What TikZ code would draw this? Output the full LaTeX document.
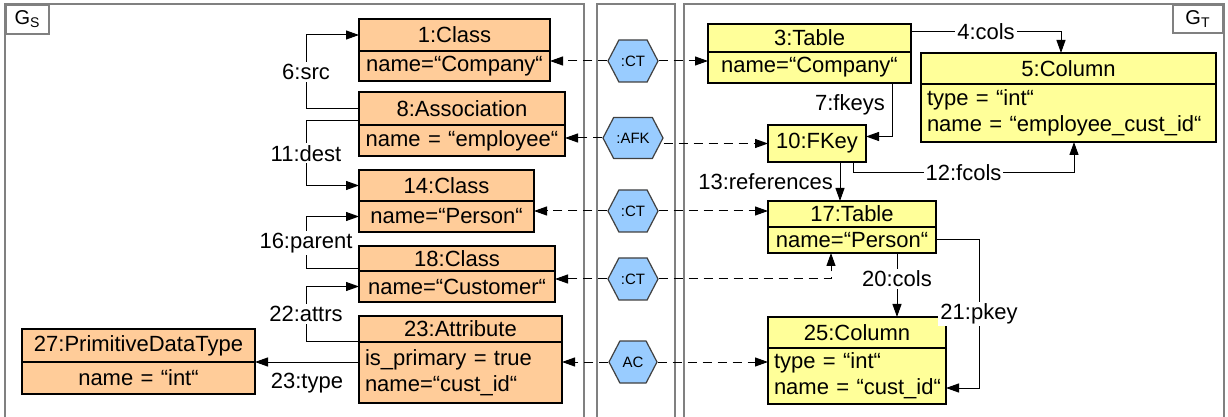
\documentclass[tikz,border=0pt]{standalone}
\usepackage{fontspec}
\setmainfont{Liberation Sans}
\usetikzlibrary{arrows.meta,shapes.symbols}
\definecolor{orange1}{HTML}{FFCC99}
\definecolor{yellow1}{HTML}{FFFF99}
\definecolor{blue1}{HTML}{99CCFF}
\definecolor{grau1}{HTML}{808080}

\begin{document}
\begin{tikzpicture}[
		x=1pt, y=1pt,
		>={Triangle[length=6.5pt,width=4.5pt]},		% Standardpfeilspitzen
		font=\fontsize{11}{13}\selectfont,			% Verwendete Schriftart
		objbox/.style={draw, line width=0.7pt, anchor=north west, outer sep=0pt, inner xsep=3pt, inner ysep=0pt, align=center},
		quelle/.style={objbox, fill=orange1},
		ziel/.style={objbox, fill=yellow1},
		regel/.style={signal, signal to=east and west, signal pointer angle=125, draw=black!75, line width=0.6pt, fill=blue1, inner sep=1pt, minimum width=24pt, minimum height=21pt, font=\fontsize{7.5}{9}\selectfont},
		kante/.style={line width=0.5pt},
		abb/.style={kante, dash pattern=on 4.5pt off 3pt},
		marke/.style={fill=white, inner sep=1pt},
		panel/.style={draw=grau1, line width=1pt}
	]
	\useasboundingbox (0,0) rectangle (614,-208.5);

	% Rahmen
	\draw[panel] (2.5,-210) -- (2.5,-2) -- (292,-2) -- (292,-210);
	\draw[panel] (298.5,-210) -- (298.5,-2) -- (337.5,-2) -- (337.5,-210);
	\draw[panel] (342,-210) -- (342,-2) -- (612,-2) -- (612,-210);
	\node[panel, fill=white, anchor=north west, minimum width=21.5pt, minimum height=14.5pt, inner sep=0pt, font=\fontsize{10}{12}\selectfont] (gs) at (2.5,-2) {G\textsubscript{S}};
	\node[panel, fill=white, anchor=north east, minimum width=25pt, minimum height=14pt, inner sep=0pt, font=\fontsize{10}{12}\selectfont] (gt) at (612,-2) {G\textsubscript{T}};

	% Knoten Quellgraph
	\node[quelle, text width=89.5pt, minimum height=16pt] (c1) at (179.5,-9.5) {1:Class};
	\node[quelle, text width=89.5pt, minimum height=15pt] (c1a) at (c1.south west) {name=“Company“};
	\node[quelle, text width=97pt, minimum height=16.5pt] (a8) at (179.5,-46) {8:Association};
	\node[quelle, text width=97pt, minimum height=15.5pt] (a8a) at (a8.south west) {name~=~“employee“};
	\node[quelle, text width=81.5pt, minimum height=15.5pt] (c14) at (179.5,-85) {14:Class};
	\node[quelle, text width=81.5pt, minimum height=15.5pt] (c14a) at (c14.south west) {name=“Person“};
	\node[quelle, text width=92pt, minimum height=12.5pt] (c18) at (179.5,-123) {18:Class};
	\node[quelle, text width=92pt, minimum height=15.5pt] (c18a) at (c18.south west) {name=“Customer“};
	\node[quelle, text width=95.5pt, minimum height=13pt] (at23) at (179.5,-158) {23:Attribute};
	\node[quelle, text width=95.5pt, minimum height=30.5pt, align=left] (at23a) at (at23.south west) {is\_primary~=~true\\name=“cust\_id“};
	\node[quelle, text width=110.5pt, minimum height=16.5pt] (pt27) at (11,-164.5) {27:PrimitiveDataType};
	\node[quelle, text width=110.5pt, minimum height=16pt] (pt27a) at (pt27.south west) {name~=~“int“};

	% Knoten Zielgraph
	\node[ziel, text width=95.5pt, minimum height=14pt] (t3) at (354,-12) {3:Table};
	\node[ziel, text width=95.5pt, minimum height=15.5pt] (t3a) at (t3.south west) {name=“Company“};
	\node[ziel, text width=141.5pt, minimum height=15.5pt] (col5) at (460.5,-26.5) {5:Column};
	\node[ziel, text width=141.5pt, minimum height=29pt, align=left] (col5a) at (col5.south west) {type~=~“int“\\name~=~“employee\_cust\_id“};
	\node[ziel, text width=43pt, minimum height=18.5pt] (fk10) at (384,-62.5) {10:FKey};
	\node[ziel, text width=78pt, minimum height=13pt] (t17) at (384,-100.5) {17:Table};
	\node[ziel, text width=78pt, minimum height=13pt] (t17a) at (t17.south west) {name=“Person“};
	\node[ziel, text width=83pt, minimum height=15.5pt] (col25) at (384,-158.5) {25:Column};
	\node[ziel, text width=83pt, minimum height=28pt, align=left] (col25a) at (col25.south west) {type~=~“int“\\name~=~“cust\_id“};

	% Regeln
	\node[regel] (ct1) at (316.5,-30.5) {:CT};
	\node[regel, minimum width=30pt, minimum height=20.5pt] (afk8) at (316.5,-69) {:AFK};
	\node[regel] (ct14) at (316.5,-105.5) {:CT};
	\node[regel] (ct18) at (316.5,-139.5) {:CT};
	\node[regel] (ac23) at (316.5,-181) {AC};

	% Kanten Quellgraph
	\draw[kante, ->] (a8.west) -- ++(-26.5,0) |- node[pos=0.25, marke]{6:src} (c1.west);
	\draw[kante, ->] ([yshift=2pt]a8.south west) -- ++(-26.5,0) |- node[pos=0.25, marke]{11:dest} (c14.west);
	\draw[kante, ->] ([yshift=1pt]c18.south west) -- ++(-26.5,0) |- node[pos=0.25, marke]{16:parent} (c14a.west);
	\draw[kante, ->] ([yshift=0.5pt]at23.south west) -- ++(-26.5,0) |- node[pos=0.25, marke]{22:attrs} (c18a.west);
	\draw[kante, ->] (at23a.west |- pt27.south east) -- node[below=2pt]{23:type} (pt27.south east);

	% Zuordnungen
	\draw[abb, ->] (ct1.west) -- (ct1.west -| c1a.east);
	\draw[abb, ->] (ct1.east) -- (ct1.east -| t3a.west);
	\draw[abb, ->] (afk8.west) -- (afk8.west -| a8a.east);
	\draw[abb, ->] (afk8.east |- fk10.west) -- (fk10.west);
	\draw[abb, ->] (ct14.west) -- (ct14.west -| c14a.east);
	\draw[abb, ->] (ct14.east) -- (ct14.east -| t17.west);
	\draw[abb, ->] (ct18.west) -- (ct18.west -| c18a.east);
	\draw[abb, ->] (ct18.east) -| ([xshift=31.5pt]t17a.south west);
	\draw[abb, ->] (ac23.west) -- (ac23.west -| at23a.east);
	\draw[abb, ->] (ac23.east) -- (ac23.east -| col25a.west);

	% Kanten Zielgraph
	\draw[kante, ->] ([yshift=-4pt]t3.north east) -| node[pos=0.25, marke]{4:cols} ([xshift=70pt]col5.north west);
	\draw[kante, ->] ([xshift=-9.5pt]t3a.south east) |- node[pos=0.2, left]{7:fkeys} ([yshift=3.5pt]fk10.east);
	\draw[kante, ->] ([xshift=-6.5pt]fk10.south east) -- ++(0,-5.5) -| node[pos=0.25, marke]{12:fcols} ([xshift=76.5pt]col5a.south west);
	\draw[kante, ->] ([xshift=36pt]fk10.south west) -- ([xshift=36pt]fk10.south west |- t17.north) node[midway, left]{13:references};
	\draw[kante, ->] ([xshift=64.5pt]t17a.south west) -- node[pos=0.4, marke]{20:cols} ([xshift=64.5pt]t17a.south west |- col25.north);
	\draw[kante, ->] (t17a.east) -- ++(21.5,0) |- node[pos=0.25, marke]{21:pkey} ([yshift=-6pt]col25a.east);

\end{tikzpicture}
\end{document}
